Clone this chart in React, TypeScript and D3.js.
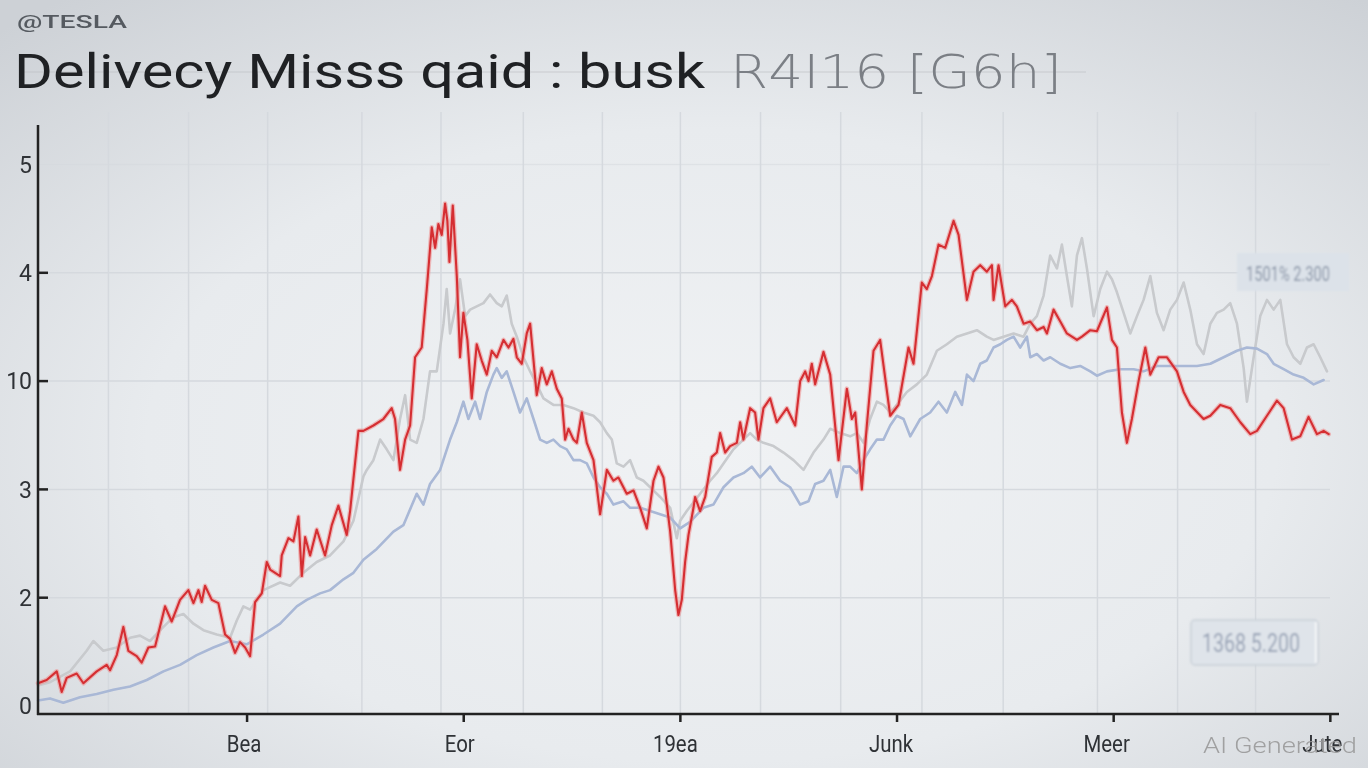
import React from "react";
import * as d3 from "d3";

const W = 1368;
const H = 768;

const yTickValues = [0, 1, 2, 3, 4, 5];
const yTickLabels = ["0", "2", "3", "10", "4", "5"];
const yTickMarks = [1, 2, 3, 4];
const xTickValues = [20, 40, 60, 80, 100, 120];
const xTickLabels = ["Bea", "Eor", "19ea", "Junk", "Meer", "Jute"];
const xGridValues = [7.2, 14.6, 21.9, 30.6, 37.9, 45.5, 52.8, 60.0, 67.4, 74.8, 82.3, 89.8, 98.5, 105.9, 113.1];

const redSeries: [number, number][] = [
  [0.7, 0.21], [1.5, 0.24], [2.43, 0.32], [2.89, 0.13], [3.35, 0.26], [4.27, 0.3], [4.89, 0.21], [6.12, 0.32], [7.04, 0.38], [7.35, 0.33],
  [7.97, 0.47], [8.58, 0.73], [9.04, 0.51], [9.81, 0.46], [10.27, 0.4], [10.89, 0.54], [11.51, 0.55], [12.43, 0.92], [13.04, 0.78], [13.81, 0.98],
  [14.58, 1.07], [15.05, 0.95], [15.51, 1.07], [15.81, 0.96], [16.12, 1.11], [16.74, 0.98], [17.35, 0.95], [17.97, 0.66], [18.43, 0.62], [18.89, 0.49],
  [19.35, 0.59], [19.82, 0.54], [20.28, 0.46], [20.74, 0.96], [21.36, 1.04], [21.82, 1.33], [22.13, 1.26], [23.05, 1.2], [23.2, 1.39], [23.82, 1.55],
  [24.28, 1.52], [24.74, 1.75], [25.05, 1.2], [25.36, 1.56], [25.82, 1.39], [26.43, 1.63], [27.2, 1.39], [27.82, 1.67], [28.43, 1.85], [29.2, 1.58],
  [29.51, 1.8], [30.28, 2.54], [30.74, 2.54],
  [31.66, 2.59], [32.58, 2.65], [33.35, 2.75], [33.66, 2.65], [34.12, 2.18], [34.59, 2.46], [35.05, 2.59], [35.51, 3.22], [36.12, 3.31], [36.59, 3.85],
  [37.05, 4.42], [37.36, 4.23], [37.66, 4.45], [37.97, 4.35], [38.28, 4.64], [38.49, 4.48], [38.68, 4.1], [38.99, 4.62], [39.36, 3.97], [39.66, 3.22],
  [39.97, 3.63], [40.34, 3.38], [40.74, 2.84], [41.2, 3.34], [41.66, 3.19], [42.13, 3.06], [42.59, 3.28], [43.05, 3.22], [43.67, 3.38], [44.13, 3.31],
  [44.59, 3.39], [44.9, 3.22], [45.36, 3.16], [45.82, 3.44], [46.13, 3.53], [46.74, 2.87], [47.2, 3.12], [47.67, 2.97], [48.13, 3.09], [48.59, 2.93],
  [49.05, 2.84], [49.36, 2.46], [49.67, 2.56], [50.13, 2.46], [50.44, 2.43], [50.9, 2.71], [51.36, 2.43], [51.98, 2.27], [52.59, 1.77], [53.21, 2.18],
  [53.82, 2.08], [54.28, 2.11], [55.05, 1.96], [55.67, 1.99], [56.29, 1.83], [56.9, 1.64], [57.52, 2.08], [57.98, 2.21], [58.44, 2.11], [59.06, 1.61],
  [59.52, 1.07], [59.82, 0.84], [60.13, 0.98], [60.44, 1.33], [60.75, 1.58], [61.21, 1.83],
  [61.36, 1.93], [61.82, 1.8], [62.29, 1.93], [62.9, 2.3], [63.36, 2.34], [63.67, 2.52], [64.13, 2.34], [64.59, 2.4], [65.21, 2.43], [65.52, 2.62],
  [65.82, 2.46], [66.44, 2.75], [66.9, 2.71], [67.21, 2.46], [67.67, 2.75], [68.29, 2.84], [68.9, 2.62], [69.83, 2.75], [70.6, 2.59], [71.06, 3.0],
  [71.52, 3.09], [71.83, 3.0], [72.13, 3.16], [72.44, 2.97], [73.21, 3.27], [73.83, 3.06], [74.6, 2.27], [75.37, 2.93], [75.83, 2.65], [76.14, 2.71],
  [76.75, 2.0], [77.21, 2.59], [77.83, 3.28], [78.44, 3.38], [79.37, 2.68], [80.14, 2.78], [81.06, 3.31], [81.52, 3.16], [82.29, 3.91], [82.75, 3.85],
  [83.22, 3.97], [83.83, 4.26], [84.45, 4.23], [85.22, 4.48], [85.68, 4.35], [86.45, 3.75], [87.06, 4.01], [87.68, 4.07], [88.29, 4.01], [88.76, 4.07],
  [88.91, 3.75], [89.37, 4.07], [89.99, 3.69], [90.6, 3.75], [91.06, 3.69], [91.68, 3.53],
  [92.3, 3.55], [92.91, 3.47], [93.53, 3.5], [93.84, 3.44], [94.45, 3.66], [95.07, 3.55], [95.68, 3.44], [96.61, 3.38], [97.07, 3.41], [97.84, 3.47],
  [98.45, 3.46], [99.38, 3.68], [99.84, 3.38], [100.3, 3.31], [100.76, 2.71], [101.22, 2.43], [101.68, 2.65], [102.3, 3.0], [102.92, 3.31], [103.38, 3.06],
  [104.15, 3.22], [104.92, 3.22], [105.84, 3.09], [106.46, 2.9], [107.07, 2.78], [108.3, 2.65], [108.92, 2.68], [109.84, 2.78], [110.76, 2.75], [111.69, 2.62],
  [112.61, 2.51], [113.23, 2.54], [114.15, 2.68], [115.07, 2.82], [115.69, 2.75], [116.46, 2.46], [117.22, 2.49], [117.99, 2.67], [118.77, 2.51], [119.38, 2.54],
  [119.85, 2.51],
];

const blueSeries: [number, number][] = [
  [0.7, 0.05], [1.81, 0.07], [3.04, 0.03], [4.58, 0.08], [6.12, 0.11], [7.66, 0.15], [9.2, 0.18], [10.74, 0.24], [12.28, 0.32], [13.81, 0.38],
  [15.35, 0.47], [16.89, 0.54], [18.43, 0.6], [19.97, 0.57], [21.51, 0.66], [23.05, 0.76], [24.59, 0.92], [25.51, 0.98], [26.74, 1.04], [27.66, 1.07],
  [28.9, 1.17], [29.82, 1.23], [30.74, 1.35],
  [31.97, 1.45], [33.51, 1.61], [34.43, 1.67], [35.66, 1.96], [36.28, 1.86], [36.89, 2.05], [37.82, 2.18], [38.74, 2.46], [39.36, 2.62], [39.97, 2.81],
  [40.43, 2.65], [41.05, 2.81], [41.51, 2.65], [42.13, 2.9], [42.74, 3.06], [43.05, 3.12], [43.51, 3.03], [43.97, 3.09], [44.59, 2.9], [45.2, 2.71],
  [45.82, 2.84], [46.44, 2.65], [47.05, 2.46], [47.67, 2.43], [48.28, 2.46], [48.9, 2.4], [49.51, 2.37], [50.13, 2.27], [50.74, 2.27], [51.36, 2.24],
  [51.98, 2.11], [52.59, 2.02], [53.21, 1.96], [53.82, 1.86], [54.75, 1.89], [55.36, 1.83], [56.29, 1.83], [57.21, 1.8], [58.13, 1.77], [59.06, 1.74],
  [59.98, 1.64], [60.9, 1.7],
  [62.13, 1.83], [63.05, 1.86], [63.98, 2.02], [64.9, 2.11], [65.82, 2.15], [66.59, 2.21], [67.36, 2.11], [68.29, 2.21], [69.21, 2.08], [70.13, 2.02],
  [71.06, 1.86], [71.83, 1.89], [72.44, 2.05], [73.21, 2.08], [73.83, 2.18], [74.44, 1.93], [75.06, 2.21], [75.67, 2.21], [76.29, 2.15], [76.91, 2.27],
  [77.52, 2.37], [78.14, 2.46], [78.75, 2.46], [79.37, 2.59], [79.98, 2.68], [80.6, 2.65], [81.22, 2.49], [82.14, 2.65], [83.06, 2.71], [83.83, 2.81],
  [84.6, 2.71], [85.37, 2.9], [85.99, 2.78], [86.45, 3.06], [87.06, 3.0], [87.68, 3.16], [88.29, 3.19], [88.91, 3.31], [89.53, 3.34], [90.14, 3.38],
  [90.76, 3.41], [91.37, 3.31], [91.99, 3.41],
  [92.3, 3.22], [92.91, 3.25], [93.53, 3.19], [94.14, 3.22], [95.07, 3.16], [95.99, 3.12], [96.91, 3.14], [97.84, 3.09], [98.45, 3.05], [99.38, 3.09],
  [100.61, 3.11], [101.84, 3.11], [102.76, 3.09], [103.99, 3.14], [105.22, 3.14], [106.46, 3.14], [107.69, 3.14], [108.92, 3.16], [110.15, 3.22], [111.38, 3.28],
  [112.3, 3.31], [113.23, 3.3], [114.15, 3.25], [114.77, 3.16], [115.69, 3.11], [116.61, 3.06], [117.54, 3.03], [118.46, 2.97], [119.38, 3.01],
];

const greySeries: [number, number][] = [
  [0.7, 0.19], [1.81, 0.22], [3.66, 0.32], [5.19, 0.51], [5.81, 0.6], [6.73, 0.51], [7.97, 0.54], [9.2, 0.63], [10.12, 0.65], [11.04, 0.6],
  [12.28, 0.73], [13.2, 0.82], [14.12, 0.85], [15.05, 0.76], [15.97, 0.7], [17.2, 0.66], [18.43, 0.63], [19.05, 0.79], [19.66, 0.92], [20.28, 0.89],
  [21.51, 1.07], [23.05, 1.14], [23.97, 1.11], [25.2, 1.23], [26.43, 1.33], [27.66, 1.39], [28.9, 1.52], [29.82, 1.71], [30.74, 2.12],
  [31.05, 2.18], [31.66, 2.27], [32.28, 2.46], [32.89, 2.37], [33.51, 2.27], [34.12, 2.65], [34.59, 2.87], [35.05, 2.46], [35.66, 2.43], [36.28, 2.65],
  [36.89, 3.09], [37.51, 3.09], [38.13, 3.53], [38.43, 3.85], [38.74, 3.44], [39.2, 3.66], [39.66, 3.94], [40.13, 3.6], [40.59, 3.66], [41.2, 3.69],
  [41.82, 3.72], [42.43, 3.8], [43.05, 3.72], [43.51, 3.69], [43.97, 3.79], [44.43, 3.53], [44.9, 3.41], [45.51, 3.22], [46.13, 3.09], [46.74, 2.97],
  [47.36, 2.84], [48.28, 2.78], [49.21, 2.78], [50.13, 2.75], [51.05, 2.71], [51.98, 2.68], [52.59, 2.62], [53.21, 2.52], [53.67, 2.46], [54.13, 2.24],
  [54.75, 2.21], [55.36, 2.27], [55.98, 2.11], [56.59, 2.08], [57.21, 2.02], [58.13, 1.93], [59.06, 1.83], [59.67, 1.55], [59.98, 1.71], [60.59, 1.8],
  [61.82, 1.96], [62.75, 2.08], [63.36, 2.15], [63.98, 2.24], [64.9, 2.37], [65.82, 2.46], [66.44, 2.52], [67.06, 2.46], [67.67, 2.43], [68.6, 2.4],
  [69.52, 2.34], [70.44, 2.27], [71.37, 2.18], [72.29, 2.34], [73.21, 2.46], [73.83, 2.56], [74.75, 2.52], [75.67, 2.49], [76.29, 2.52], [76.91, 2.43],
  [77.52, 2.65], [78.14, 2.81], [78.75, 2.78], [79.37, 2.71], [79.98, 2.78], [80.91, 2.9], [81.83, 2.97], [82.75, 3.06], [83.68, 3.28], [84.6, 3.34],
  [85.52, 3.41], [86.45, 3.44], [87.37, 3.47], [88.29, 3.41], [88.91, 3.38], [89.83, 3.41], [90.76, 3.44], [91.68, 3.41],
  [92.3, 3.53], [92.91, 3.6], [93.53, 3.79], [94.14, 4.16], [94.76, 4.04], [95.22, 4.26], [95.68, 3.97], [96.14, 3.69], [96.61, 4.16], [97.07, 4.32],
  [97.53, 4.04], [98.15, 3.6], [98.76, 3.85], [99.38, 4.01], [99.84, 3.94], [100.3, 3.82], [100.92, 3.63], [101.53, 3.44], [102.15, 3.6], [102.76, 3.75],
  [103.38, 3.97], [103.99, 3.63], [104.61, 3.47], [105.22, 3.66], [105.84, 3.75], [106.46, 3.91], [107.07, 3.66], [107.69, 3.34], [108.3, 3.25], [108.92, 3.53],
  [109.53, 3.63], [110.15, 3.66], [110.76, 3.72], [111.38, 3.53], [112.0, 3.12], [112.3, 2.81], [112.92, 3.22], [113.53, 3.6], [114.15, 3.75], [114.77, 3.66],
  [115.38, 3.75], [116.0, 3.34], [116.61, 3.22], [117.23, 3.16], [117.84, 3.31], [118.46, 3.34], [119.07, 3.22], [119.69, 3.09],
];

const brandText = "@TESLA";
const titleMain = "Delivecy Misss qaid : busk";
const titleCode = "R4I16 [G6h]";
const badgeTop = "1501% 2.300";
const badgeBottom = "1368 5.200";
const watermark = "AI Generated";

export default function App() {
  const x = d3.scaleLinear().domain([0.7, 120.8]).range([38, 1339]);
  const y = d3.scaleLinear().domain([0, 5]).range([706, 164.5]);
  const line = d3
    .line<[number, number]>()
    .x((d) => x(d[0]))
    .y((d) => y(d[1]))
    .curve(d3.curveLinear);

  const font = "Roboto, 'Liberation Sans', Arial, sans-serif";

  return (
    <div style={{ position: "fixed", left: 0, top: 0, width: W, height: H, overflow: "hidden" }}>
      <svg width={W} height={H} viewBox={`0 0 ${W} ${H}`} style={{ display: "block" }}>
        <defs>
          <radialGradient id="bg" cx="52%" cy="58%" r="75%">
            <stop offset="0%" stopColor="#f0f2f4" />
            <stop offset="55%" stopColor="#e8ebee" />
            <stop offset="100%" stopColor="#cdd1d6" />
          </radialGradient>
          <filter id="soft" x="-5%" y="-5%" width="110%" height="110%">
            <feGaussianBlur stdDeviation="0.55" />
          </filter>
          <filter id="blur1" x="-10%" y="-20%" width="120%" height="140%">
            <feGaussianBlur stdDeviation="0.8" />
          </filter>
        </defs>
        <rect x={0} y={0} width={W} height={H} fill="url(#bg)" />

        {/* grid */}
        <g stroke="#d5d9de" strokeWidth={1.5}>
          {xGridValues.map((g) => (
            <line key={"vx" + g} x1={x(g)} x2={x(g)} y1={112} y2={714} />
          ))}
          {yTickValues.filter((v) => v > 0).map((v) => (
            <line key={"hy" + v} x1={38} x2={1330} y1={y(v)} y2={y(v)} opacity={v === 5 ? 0.5 : 1} />
          ))}
        </g>

        {/* title */}
        <text x={17} y={28} fontFamily={font} fontSize={19} fontWeight={500} fill="#555a60" textLength={110} lengthAdjust="spacingAndGlyphs">
          {brandText}
        </text>
        <line x1={20} x2={1086} y1={72} y2={72} stroke="#b9bcc0" strokeWidth={1.2} opacity={0.6} />
        <text x={14} y={88} fontFamily={font} fontSize={48} fill="#1f2124" textLength={691} lengthAdjust="spacingAndGlyphs">
          {titleMain}
        </text>
        <text x={730} y={88} fontFamily="'DejaVu Sans', sans-serif" fontSize={46} fontWeight={300} fill="#7b7f85" textLength={332} lengthAdjust="spacingAndGlyphs">
          {titleCode}
        </text>

        {/* series */}
        <g filter="url(#soft)" fill="none" strokeLinejoin="round" strokeLinecap="round">
          <path d={line(greySeries) || ""} stroke="#c8cacd" strokeWidth={2.6} />
          <path d={line(blueSeries) || ""} stroke="#a9b8d6" strokeWidth={2.6} />
          <path d={line(redSeries) || ""} stroke="#ef8c8c" strokeWidth={4.6} opacity={0.55} />
          <path d={line(redSeries) || ""} stroke="#d52f33" strokeWidth={2.1} />
        </g>

        {/* y axis */}
        <line x1={38} x2={38} y1={125} y2={715} stroke="#222" strokeWidth={2.5} />
        {yTickMarks.map((v) => (
          <line key={"ytm" + v} x1={38} x2={48} y1={y(v)} y2={y(v)} stroke="#222" strokeWidth={2.5} />
        ))}
        {yTickValues.map((v, i) => (
          <text key={"ytl" + v} x={32} y={y(v)} dy="0.36em" textAnchor="end" fontFamily={font} fontSize={23} fill="#2f3236">
            {yTickLabels[i]}
          </text>
        ))}

        {/* x axis */}
        <line x1={37} x2={1339} y1={714} y2={714} stroke="#222" strokeWidth={2.5} />
        {xTickValues.map((v, i) => (
          <g key={"xt" + v}>
            <line x1={x(v)} x2={x(v)} y1={714} y2={722} stroke="#222" strokeWidth={2.5} />
            <text x={x(v) - 3 - i} y={752} textAnchor="middle" fontFamily={font} fontSize={24} fill="#2f3236" transform={`translate(${x(v) - 3 - i},0) scale(0.85,1) translate(${-(x(v) - 3 - i)},0)`}>
              {xTickLabels[i]}
            </text>
          </g>
        ))}

        {/* badges */}
        <g filter="url(#blur1)">
          <rect x={1237} y={253} width={112} height={38} fill="#dce2e9" />
          <text x={1246} y={281} fontFamily={font} fontSize={21} fill="#8793a6" textLength={84} lengthAdjust="spacingAndGlyphs">
            {badgeTop}
          </text>
          <rect x={1191} y={620} width={127} height={45} rx={4} fill="#dfe4ea" stroke="#c9d0d8" strokeWidth={1.5} />
          <line x1={1316} x2={1316} y1={622} y2={663} stroke="#f7f8fa" strokeWidth={2} />
          <text x={1202} y={652} fontFamily={font} fontSize={25} fill="#98a3b6" textLength={98} lengthAdjust="spacingAndGlyphs">
            {badgeBottom}
          </text>
        </g>

        {/* watermark */}
        <text x={1203} y={753} fontFamily={font} fontSize={22} fontWeight={300} fill="#9a9a9a" opacity={0.9} textLength={154} lengthAdjust="spacingAndGlyphs">
          {watermark}
        </text>
      </svg>
    </div>
  );
}
